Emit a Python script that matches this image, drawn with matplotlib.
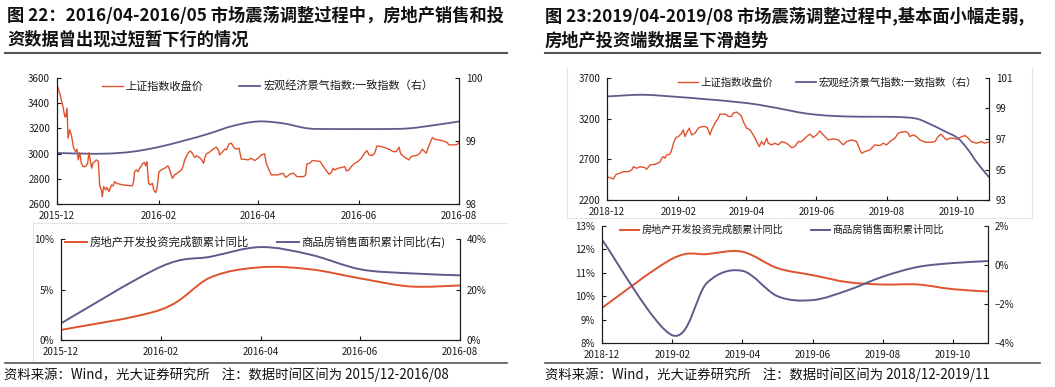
import numpy as np
import pandas as pd
import matplotlib
matplotlib.use("Agg")
import matplotlib.pyplot as plt
import matplotlib.dates as mdates
from matplotlib.path import Path
from matplotlib.patches import PathPatch
from matplotlib.lines import Line2D
from matplotlib.ticker import FuncFormatter, MultipleLocator

plt.rcParams['font.family'] = ['Noto Sans CJK SC', 'DejaVu Sans']

# ---------------- data: figure 22 (2015-12 .. 2016-08) ----------------
start_l = pd.Timestamp('2015-12-01')
sse_l_day = [0, 1.6, 3.6, 4.7, 5.3, 6.1, 6.7, 7.7, 8.7, 10.1,
             11.3, 12.1, 12.9, 13.8, 14.8, 15.8, 17.4, 18.6, 19.4, 20.2,
             21.0, 21.8, 23.9, 25.1, 25.9, 26.9, 27.5, 28.3, 29.5, 30.3,
             31.6, 33.0, 34.0, 35.0, 36.0, 40.1, 44.1, 45.7, 46.5, 47.1,
             48.1, 49.2, 50.2, 52.2, 53.2, 53.8, 54.6, 55.6, 56.6, 57.9,
             58.7, 59.9, 60.7, 61.9, 63.3, 65.3, 67.4, 68.4, 70.0, 71.4,
             73.4, 75.5, 76.5, 77.5, 79.5, 80.9, 82.1, 83.5, 84.6, 86.2,
             87.6, 89.0, 89.6, 90.6, 92.2, 94.7, 96.7, 97.9, 98.7, 99.7,
             101.8, 102.8, 104.4, 105.8, 106.8, 107.8, 109.2, 110.5, 111.3, 111.9,
             113.9, 115.9, 117.9, 120.0, 122.0, 124.0, 126.0, 127.0, 128.7, 130.1,
             132.1, 134.1, 135.5, 137.2, 138.8, 140.2, 141.6, 143.6, 145.7, 147.3,
             149.7, 150.9, 151.7, 153.3, 155.0, 157.4, 159.8, 161.0, 162.4, 163.9,
             165.1, 166.5, 167.5, 168.5, 170.5, 172.6, 174.6, 175.6, 177.2, 178.6,
             180.7, 182.7, 184.7, 186.7, 188.1, 189.4, 191.4, 192.8, 194.2, 196.8,
             199.9, 202.3, 203.9, 205.9, 207.6, 208.6, 210.4, 212.0, 213.6, 215.0,
             217.1, 219.1, 220.5, 221.7, 223.1, 224.1, 225.2, 226.6, 227.8, 229.2,
             231.2, 233.3, 235.3, 236.7, 237.9, 240.3, 242.8, 244.0]
sse_l_val = [3547, 3481, 3375, 3295, 3290, 3361, 3122, 3189, 3149, 3043,
             3016, 3035, 2950, 3008, 2923, 2897, 2897, 2923, 3008, 2950,
             2884, 2923, 2950, 2937, 2751, 2711, 2658, 2738, 2711, 2733,
             2698, 2751, 2743, 2778, 2764, 2751, 2746, 2743, 2778, 2857,
             2870, 2857, 2884, 2923, 2929, 2903, 2937, 2764, 2751, 2764,
             2711, 2690, 2724, 2857, 2870, 2884, 2903, 2870, 2804, 2831,
             2849, 2870, 2897, 2950, 3003, 3021, 3003, 2969, 2982, 2971,
             2955, 2923, 2963, 2998, 3008, 3035, 3051, 3030, 2990, 3003,
             3035, 3030, 3077, 3083, 3061, 3043, 3035, 3043, 2990, 2955,
             2955, 2950, 2963, 2945, 2963, 2990, 2998, 2923, 2870, 2831,
             2831, 2831, 2839, 2844, 2812, 2823, 2839, 2844, 2817, 2817,
             2817, 2831, 2918, 2923, 2945, 2942, 2937, 2910, 2884, 2857,
             2836, 2849, 2884, 2870, 2884, 2889, 2897, 2863, 2870, 2897,
             2923, 2937, 2963, 3003, 3024, 2990, 2985, 3003, 3061, 3056,
             3043, 3030, 3016, 3016, 3051, 2998, 2977, 2963, 2950, 2977,
             2982, 2990, 3008, 3035, 3016, 3003, 3043, 3088, 3128, 3114,
             3109, 3104, 3096, 3088, 3069, 3069, 3072, 3088]
macro_l_day = [0, 15.2, 30.5, 45.7, 60.9, 76.3, 91.4, 106.8, 122, 137.2,
               152.3, 167.5, 182.9, 198, 213.4, 228.6, 244]
macro_l_val = [98.81, 98.80, 98.80, 98.83, 98.90, 99.00, 99.11, 99.24, 99.31, 99.28,
               99.20, 99.19, 99.19, 99.19, 99.20, 99.25, 99.31]

months_l = ['2015-12', '2016-01', '2016-02', '2016-03', '2016-04',
            '2016-05', '2016-06', '2016-07', '2016-08']
inv_months_l = ['2015-12', '2016-02', '2016-03', '2016-04', '2016-05',
                '2016-06', '2016-07', '2016-08']
inv_l = [1.0, 3.0, 6.2, 7.2, 7.0, 6.1, 5.3, 5.4]
sales_l = [6.6, 29.0, 33.0, 36.8, 33.8, 28.0, 26.4, 25.6]

# ---------------- data: figure 23 (2018-12 .. 2019-11) ----------------
start_r = pd.Timestamp('2018-12-01')
sse_r_day = [0, 5.5, 8, 11, 14, 18.5, 21.5, 23, 26, 28.7,
             33, 34.5, 37.4, 41.7, 46, 47.5, 49, 50.4, 51.9, 54.7,
             56.2, 58.2, 60, 62, 65, 66.3, 67.8, 69.8, 71.5, 73.6,
             76.5, 79.3, 82.3, 85.1, 87.1, 89.5, 90.9, 93.8, 96.7, 98.2,
             102.5, 104, 105.4, 108.3, 109.7, 112.7, 115, 117, 118.4, 121.4,
             124.2, 127.1, 130.1, 132.3, 134.4, 136.4, 138.8, 140.1, 143.1, 146,
             148.8, 151.8, 156.1, 160.5, 163.3, 166.2,
             169.1, 173.5, 176.4, 179.2, 182.2, 185, 186.5, 189.4, 192.3, 196.6,
             201, 205.3, 208.3, 212.6, 217, 219.8, 221.3, 224.1, 228.5, 232.8,
             237.2, 240, 243, 245.9, 250.2, 253.1, 256, 259.5, 261.8, 263.2,
             266.1, 269, 271.9, 276.3, 282.1, 285, 287.8, 290.2, 292.2, 295.1,
             298, 300.9, 303.8, 306.7, 311, 313.4, 316.8, 321.2, 325.5, 328.4,
             331.3]
sse_r_val = [2487, 2458, 2516, 2529, 2548, 2548, 2569, 2610, 2590, 2610,
             2598, 2578, 2631, 2640, 2664, 2714, 2733, 2714, 2754, 2763,
             2816, 2918, 2968, 2980, 3022, 3063, 2980, 3042, 3083, 3001,
             3022, 3083, 3103, 3103, 3091, 3001, 3063, 3145, 3207, 3256,
             3256, 3247, 3227, 3227, 3268, 3281, 3256, 3227, 3165, 3083,
             3063, 3001, 2918, 2857, 2918, 2878, 2960, 2898, 2878, 2898,
             2878, 2918, 2898, 2844, 2857, 2918,
             2918, 2980, 3010, 2968, 3001, 3050, 3022, 2980, 2939, 2952,
             2939, 2878, 2918, 2939, 2918, 2816, 2775, 2795, 2816, 2878,
             2869, 2898, 2878, 2918, 2960, 3022, 3034, 3042, 3022, 2980,
             3001, 2980, 2939, 2911, 2911, 2918, 2980, 3010, 2980, 2939,
             2960, 2960, 2948, 2968, 2993, 2968, 2918, 2898, 2918, 2898,
             2911]
macro_r_day = [0, 31, 61, 81, 121, 150, 165, 181, 200, 222, 250, 268,
               279, 294, 305, 314, 322, 332]
macro_r_val = [99.79, 99.90, 99.76, 99.64, 99.36, 99.0, 98.77, 98.6, 98.5, 98.46,
               98.45, 98.35, 98.04, 97.49, 97.05, 96.28, 95.41, 94.5]

months_r = ['2018-12', '2019-01', '2019-02', '2019-03', '2019-04', '2019-05',
            '2019-06', '2019-07', '2019-08', '2019-09', '2019-10', '2019-11']
inv_months_r = ['2018-12', '2019-02', '2019-03', '2019-04', '2019-05', '2019-06',
                '2019-07', '2019-08', '2019-09', '2019-10', '2019-11']
inv_r = [9.5, 11.6, 11.8, 11.9, 11.2, 10.9, 10.6, 10.5, 10.5, 10.3, 10.2]
sales_r = [1.3, -3.6, -0.9, -0.3, -1.6, -1.8, -1.3, -0.6, -0.1, 0.1, 0.2]

RED = '#e0522c'
BLUE = '#5c5c8c'
W, H = 1055, 387


def fx(px):
    return px / W


def fy(py):
    return 1 - py / H


def smooth_path(x, y):
    # excel-like smoothed line through the points (catmull-rom as bezier)
    x = np.asarray(x, float)
    y = np.asarray(y, float)
    n = len(x)
    verts = [(x[0], y[0])]
    codes = [Path.MOVETO]
    for i in range(n - 1):
        xa, ya = (x[i - 1], y[i - 1]) if i > 0 else (x[i], y[i])
        xb, yb = (x[i + 2], y[i + 2]) if i + 2 < n else (x[i + 1], y[i + 1])
        verts.append((x[i] + (x[i + 1] - xa) / 6, y[i] + (y[i + 1] - ya) / 6))
        verts.append((x[i + 1] - (xb - x[i]) / 6, y[i + 1] - (yb - y[i]) / 6))
        verts.append((x[i + 1], y[i + 1]))
        codes += [Path.CURVE4] * 3
    return Path(verts, codes)


def smooth_line(ax, x, y, color, lw):
    ax.add_patch(PathPatch(smooth_path(x, y), fill=False, edgecolor=color,
                           lw=lw, capstyle='round', joinstyle='round'))
    return Line2D([], [], color=color, lw=lw)


def add_axes_px(left, top, right, bottom):
    return fig.add_axes([fx(left), fy(bottom), (right - left) / W, (bottom - top) / H])


def style(ax, ax2):
    for a in (ax, ax2):
        a.spines['top'].set_visible(False)
        for s in a.spines.values():
            s.set_linewidth(0.8)
            s.set_color('#1a1a1a')
        a.tick_params(direction='in', length=3, width=0.8, labelsize=7, pad=5,
                      colors='#1a1a1a')
    ax.patch.set_visible(False)


def legend(ax, handles, labels, x, y, size, gap):
    ax.legend(handles, labels, loc='center left', bbox_to_anchor=(fx(x), fy(y)),
              bbox_transform=fig.transFigure, ncol=2, frameon=False, fontsize=size,
              handlelength=1.9, handletextpad=0.25, columnspacing=gap,
              borderpad=0, borderaxespad=0, labelcolor='#1a1a1a')


def hline(x0, x1, y, color, lw):
    fig.add_artist(Line2D([fx(x0), fx(x1)], [fy(y), fy(y)], color=color, lw=lw,
                          transform=fig.transFigure))


def vline(x, y0, y1, color, lw):
    fig.add_artist(Line2D([fx(x), fx(x)], [fy(y0), fy(y1)], color=color, lw=lw,
                          transform=fig.transFigure))


pct = FuncFormatter(lambda v, p: f'{v:.0f}%'.replace('-', '\u2212'))

fig = plt.figure(figsize=(W / 100, H / 100), dpi=100)

# faint frames of the pasted pictures
light = '#e4e4e4'
hline(33, 507, 223, light, 0.8)
vline(33, 223, 361, light, 0.8)
vline(567, 68, 218, light, 0.8)
vline(1032, 68, 218, light, 0.8)
hline(567, 1032, 218, light, 0.8)

# ---------------- figure 22 top ----------------
ax = add_axes_px(57, 78, 459, 204)
ax2 = ax.twinx()
ax.set_zorder(ax2.get_zorder() + 1)
d = start_l + pd.to_timedelta(sse_l_day, unit='D')
h1, = ax.plot(d, sse_l_val, color=RED, lw=1.0)
dm = mdates.date2num(start_l + pd.to_timedelta(macro_l_day, unit='D'))
h2 = smooth_line(ax2, dm, macro_l_val, BLUE, 1.3)
ax.set_xlim(start_l, pd.Timestamp('2016-08-01'))
ax.set_ylim(2600, 3600)
ax.set_yticks(range(2600, 3601, 200))
ax2.set_ylim(98, 100)
ax2.set_yticks([98, 99, 100])
ax.xaxis.set_major_locator(mdates.MonthLocator(bymonth=[12, 2, 4, 6, 8, 10]))
ax.xaxis.set_major_formatter(mdates.DateFormatter('%Y-%m'))
style(ax, ax2)
legend(ax, [h1, h2], ['上证指数收盘价', '宏观经济景气指数:一致指数（右）'],
       102, 86, 8, 3.2)

# ---------------- figure 22 bottom ----------------
ax = add_axes_px(61, 239, 460, 340)
ax2 = ax.twinx()
ax.set_zorder(ax2.get_zorder() + 1)
pos = [months_l.index(m) for m in inv_months_l]
h1 = smooth_line(ax, pos, inv_l, RED, 1.4)
h2 = smooth_line(ax2, pos, sales_l, BLUE, 1.4)
ax.set_xlim(0, len(months_l) - 1)
ax.set_xticks(range(0, len(months_l), 2))
ax.set_xticklabels(months_l[::2])
ax.set_ylim(0, 10)
ax.yaxis.set_major_locator(MultipleLocator(5))
ax.yaxis.set_major_formatter(pct)
ax2.set_ylim(0, 40)
ax2.yaxis.set_major_locator(MultipleLocator(20))
ax2.yaxis.set_major_formatter(pct)
style(ax, ax2)
legend(ax, [h1, h2], ['房地产开发投资完成额累计同比', '商品房销售面积累计同比(右)'],
       65, 242, 8.2, 2.5)

# ---------------- figure 23 top ----------------
ax = add_axes_px(607, 78, 989, 200)
ax2 = ax.twinx()
d = start_r + pd.to_timedelta(sse_r_day, unit='D')
h1, = ax.plot(d, sse_r_val, color=RED, lw=1.0)
dm = mdates.date2num(start_r + pd.to_timedelta(macro_r_day, unit='D'))
h2 = smooth_line(ax2, dm, macro_r_val, BLUE, 1.3)
ax.set_xlim(start_r, start_r + pd.Timedelta(days=332))
ax.set_ylim(2200, 3700)
ax.set_yticks(range(2200, 3701, 500))
ax2.set_ylim(93, 101)
ax2.set_yticks(range(93, 102, 2))
ax.xaxis.set_major_locator(mdates.MonthLocator(bymonth=[12, 2, 4, 6, 8, 10]))
ax.xaxis.set_major_formatter(mdates.DateFormatter('%Y-%m'))
style(ax, ax2)
legend(ax2, [h1, h2], ['上证指数收盘价', '宏观经济景气指数:一致指数（右）'],
       678, 83, 7.5, 2.2)

# ---------------- figure 23 bottom ----------------
ax = add_axes_px(602, 226, 988, 343)
ax2 = ax.twinx()
pos = [months_r.index(m) for m in inv_months_r]
h1 = smooth_line(ax, pos, inv_r, RED, 1.4)
h2 = smooth_line(ax2, pos, sales_r, BLUE, 1.4)
ax.set_xlim(0, len(months_r) - 1)
ax.set_xticks(range(0, len(months_r), 2))
ax.set_xticklabels(months_r[::2])
ax.set_ylim(8, 13)
ax.yaxis.set_major_locator(MultipleLocator(1))
ax.yaxis.set_major_formatter(pct)
ax2.set_ylim(-4, 2)
ax2.yaxis.set_major_locator(MultipleLocator(2))
ax2.yaxis.set_major_formatter(pct)
style(ax, ax2)
legend(ax2, [h1, h2], ['房地产开发投资完成额累计同比', '商品房销售面积累计同比'],
       620, 230, 7.3, 2.7)

# ---------------- titles and footers ----------------
tkw = dict(fontsize=12.4, fontweight='bold', va='center', color='#111111')
fig.text(fx(7), fy(16), '图 22：2016/04-2016/05 市场震荡调整过程中，房地产销售和投', **tkw)
fig.text(fx(7), fy(40), '资数据曾出现过短暂下行的情况', **tkw)
fig.text(fx(545), fy(16), '图 23:2019/04-2019/08 市场震荡调整过程中,基本面小幅走弱,', **tkw)
fig.text(fx(545), fy(40), '房地产投资端数据呈下滑趋势', **tkw)
hline(5, 507, 53, '#555555', 1.5)
hline(545, 1040, 53, '#555555', 1.5)
hline(5, 507, 363, '#555555', 1.2)
hline(545, 1040, 363, '#555555', 1.2)

fkw = dict(fontsize=9.6, va='center', color='#111111')
fig.text(fx(4), fy(375), '资料来源：Wind，光大证券研究所    注：数据时间区间为 2015/12-2016/08', **fkw)
fig.text(fx(545), fy(375), '资料来源：Wind，光大证券研究所    注：数据时间区间为 2018/12-2019/11', **fkw)

fig.savefig('out.png', dpi=100)
